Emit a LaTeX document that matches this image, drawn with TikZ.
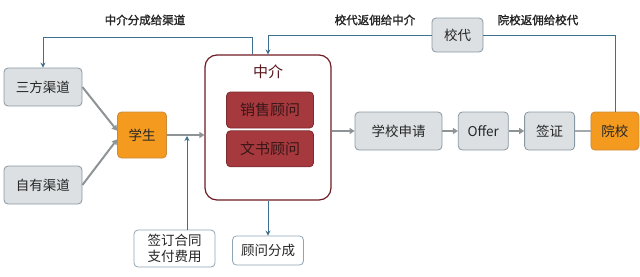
\documentclass[tikz,border=0pt]{standalone}
\usepackage{fontspec}
\setmainfont{Noto Sans CJK SC}[AutoFakeBold=1.6]
\usepackage{tikz}
\usepackage{xcolor}
\usetikzlibrary{arrows.meta,positioning}
\definecolor{FlowGray}{HTML}{DCE0E3}
\definecolor{FlowGrayEdge}{HTML}{8898A3}
\definecolor{FlowText}{HTML}{262626}
\definecolor{FlowOrange}{HTML}{F39A1F}
\definecolor{FlowOrangeEdge}{HTML}{C98A3C}
\definecolor{AgentRed}{HTML}{6E1C24}
\definecolor{StaffRed}{HTML}{A5393D}
\definecolor{StaffEdge}{HTML}{7C2A2E}
\definecolor{StaffText}{HTML}{3A1618}
\definecolor{NoteEdge}{HTML}{8FA4B3}
\definecolor{MoneyBlue}{HTML}{3D6F8E}
\definecolor{ArrowGray}{HTML}{8E9396}
\tikzset{
  flowbox/.style={draw=FlowGrayEdge,thick,rounded corners=4pt,fill=FlowGray,align=center,inner sep=0pt,minimum height=38pt,text=FlowText},
  keybox/.style={flowbox,draw=FlowOrangeEdge,fill=FlowOrange},
  notebox/.style={flowbox,fill=white,draw=NoteEdge},
  agentbox/.style={draw=AgentRed,very thick,rounded corners=12pt,fill=white,minimum width=126pt,minimum height=145pt},
  staffbox/.style={draw=StaffEdge,thick,rounded corners=4pt,fill=StaffRed,inner sep=0pt,minimum width=87pt,minimum height=36pt,text=StaffText,font=\fontsize{15}{17}\selectfont},
  flow/.style={-{Triangle[length=5pt,width=6pt]},line width=2pt,draw=ArrowGray},
  plainflow/.style={line width=1.2pt,draw=ArrowGray!80},
  money/.style={-{Stealth[length=5pt,width=5pt]},thick,draw=MoneyBlue},
  moneyline/.style={thick,draw=MoneyBlue},
  moneytext/.style={font=\fontsize{11.5}{13}\selectfont\bfseries,text=FlowText}
}
\begin{document}
\begin{tikzpicture}[x=1pt,y=-1pt,node distance=15.5pt,font=\fontsize{13.5}{16}\selectfont]
  \useasboundingbox (0,0) rectangle (640,276);
  % channels and student
  \node[flowbox,minimum width=78pt] (third) at (43,87) {三方渠道};
  \node[flowbox,minimum width=78pt] (own) at (43,185) {自有渠道};
  \node[keybox,minimum width=49pt,minimum height=46pt] (student) at (142,135) {学生};
  % agency
  \node[agentbox] (agent) at (268,127.5) {};
  \node[text=AgentRed!80!black,font=\fontsize{15}{17}\selectfont] (agenttitle) at (268,72) {中介};
  \node[staffbox] (sales) at (270,110) {销售顾问};
  \node[staffbox,below=2pt of sales] (docs) {文书顾问};
  % application chain
  \node[flowbox,minimum width=87pt] (apply) at (398.5,131) {学校申请};
  \node[flowbox,minimum width=50pt,right=of apply] (offer) {Offer};
  \node[flowbox,minimum width=50pt,right=of offer] (visa) {签证};
  \node[keybox,minimum width=48pt,right=of visa] (school) {院校};
  \node[flowbox,minimum width=51pt,minimum height=34pt] (rep) at (457.5,35) {校代};
  % side notes
  \node[notebox,minimum width=81pt,minimum height=37pt,font=\fontsize{13.5}{15.5}\selectfont] (contract) at (174.5,248.5) {签订合同\\支付费用};
  \node[notebox,minimum width=71pt,minimum height=29pt] (share) at (268,250.5) {顾问分成};
  \coordinate (paypoint) at (187,136);
  \coordinate (cut) at (252,37);
  % student flow
  \draw[flow] (third.east) -- (student.170);
  \draw[flow] (own.east) -- (student.190);
  \draw[flow] (student.east) -- (student.east -| agent.west);
  \draw[flow] (apply.west -| agent.east) -- (apply.west);
  \draw[flow] (apply) -- (offer);
  \draw[flow] (offer) -- (visa);
  \draw[plainflow] (visa) -- (school);
  % money flow
  \draw[money] (contract.north -| paypoint) -- (paypoint);
  \draw[money] (agent.south) -- (share.north);
  \draw[moneyline] (school.north) |- (rep.east);
  \draw[money] (rep.west) -| (agent.north);
  \draw[money] (cut |- agent.north) -- (cut) -| (third.north);
  \node[moneytext] (toChannel) at (145,20) {中介分成给渠道};
  \node[moneytext] (toAgent) at (375,20) {校代返佣给中介};
  \node[moneytext] (toRep) at (538,20) {院校返佣给校代};
\end{tikzpicture}
\end{document}
